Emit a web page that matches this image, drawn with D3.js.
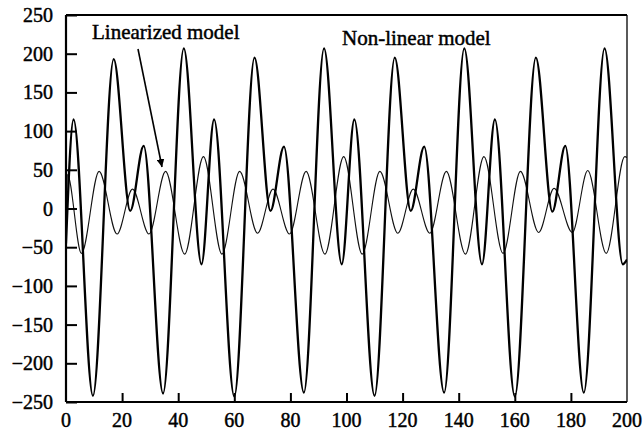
<!DOCTYPE html>
<html>
<head>
<meta charset="utf-8">
<script src="https://cdn.jsdelivr.net/npm/d3@7"></script>
<style>
  body { margin: 0; background: #fff; }
  text { font-family: "Liberation Serif", "DejaVu Serif", serif; fill: #000; stroke: #000; stroke-width: 0.45px; }
</style>
</head>
<body>
<div class="chart"></div>
<script>
// non-linear model (thick line)
const nonlinX = [0, 2.7, 9.6, 17.0, 22.9, 27.7, 34.6, 42.0, 48.3,
  52.8, 60.0, 67.2, 72.9, 77.7, 84.8, 92.0, 98.3,
  102.8, 110.0, 117.2, 122.9, 127.7, 134.8, 142.0, 148.3,
  152.9, 160.0, 167.5, 173.4, 178.0, 184.6, 192.0, 198.5, 200];
const nonlinY = [-45, 115, -242, 193, -3, 81, -239, 207, -72,
  115, -243, 195, -3, 80, -238, 207, -72,
  115, -242, 195, -3, 80, -238, 207, -72,
  115, -243, 195, -4, 81, -238, 207, -72, -66];

// linearized model (thin line)
const linX = [0, 0.5, 5.5, 11.8, 18.2, 23.7, 29.6, 35.5, 42.3, 49.0,
  55.6, 61.9, 68.3, 73.8, 79.7, 85.6, 92.3, 99.0,
  105.6, 111.9, 118.3, 123.8, 129.7, 135.6, 142.4, 149.0,
  155.8, 162.0, 168.5, 174.0, 180.5, 186.0, 192.6, 199.2, 200];
const linY = [-45, 44, -58, 48, -33, 25, -33, 48, -59, 67,
  -59, 48, -32, 25, -33, 48, -59, 67,
  -59, 48, -32, 25, -32, 48, -59, 67,
  -58, 48, -31, 26, -31, 49, -58, 67, 66];

const xTicks = [0, 20, 40, 60, 80, 100, 120, 140, 160, 180, 200];
const yTicks = [-250, -200, -150, -100, -50, 0, 50, 100, 150, 200, 250];

const width = 643;
const height = 432;
const margin = { top: 15, right: 16, bottom: 30, left: 66 };

const x = d3.scaleLinear().domain([0, 200]).range([margin.left, width - margin.right]);
const y = d3.scaleLinear().domain([-250, 250]).range([height - margin.bottom, margin.top]);

const svg = d3.select(".chart")
  .append("svg")
  .attr("width", width)
  .attr("height", height);

const line = d3.line()
  .x((d) => x(d[0]))
  .y((d) => y(d[1]))
  .curve(d3.curveMonotoneX);

// clip so the lines stay inside the frame
svg.append("clipPath").attr("id", "plot")
  .append("rect")
  .attr("x", margin.left)
  .attr("y", margin.top)
  .attr("width", width - margin.left - margin.right)
  .attr("height", height - margin.top - margin.bottom);

const lin = linX.map((v, i) => [v, linY[i]]);
const nonlin = nonlinX.map((v, i) => [v, nonlinY[i]]);

svg.append("path")
  .datum(lin)
  .attr("clip-path", "url(#plot)")
  .attr("fill", "none")
  .attr("stroke", "#111")
  .attr("stroke-width", 1.1)
  .attr("d", line);

svg.append("path")
  .datum(nonlin)
  .attr("clip-path", "url(#plot)")
  .attr("fill", "none")
  .attr("stroke", "#000")
  .attr("stroke-width", 2.3)
  .attr("stroke-linejoin", "round")
  .attr("d", line);

// axes, ticks inside the frame
const fmt = (d) => (d < 0 ? "\u2212" + Math.abs(d) : String(d));

const yAxis = svg.append("g")
  .attr("transform", `translate(${margin.left},0)`)
  .call(d3.axisRight(y).tickValues(yTicks).tickSize(11).tickFormat(""));
yAxis.select(".domain").remove();
yAxis.selectAll("line").attr("stroke-width", 2);

const xAxis = svg.append("g")
  .attr("transform", `translate(0,${height - margin.bottom})`)
  .call(d3.axisTop(x).tickValues(xTicks.slice(1, -1)).tickSize(9).tickFormat(""));
xAxis.select(".domain").remove();
xAxis.selectAll("line").attr("stroke-width", 2);

svg.append("g")
  .selectAll("text")
  .data(yTicks)
  .join("text")
  .attr("x", margin.left - 13)
  .attr("y", (d) => y(d) + 7)
  .attr("text-anchor", "end")
  .style("font-size", "20px")
  .text(fmt);

svg.append("g")
  .selectAll("text")
  .data(xTicks)
  .join("text")
  .attr("x", (d) => x(d))
  .attr("y", height - 5)
  .attr("text-anchor", "middle")
  .style("font-size", "20px")
  .text(fmt);

// frame
const x0 = x(0), x1 = x(200), y0 = y(-250), y1 = y(250);
svg.append("line").attr("x1", x0).attr("x2", x1).attr("y1", y1).attr("y2", y1)
  .attr("stroke", "#000").attr("stroke-width", 2.2);
svg.append("line").attr("x1", x0).attr("x2", x1).attr("y1", y0).attr("y2", y0)
  .attr("stroke", "#000").attr("stroke-width", 2.2);
svg.append("line").attr("x1", x0).attr("x2", x0).attr("y1", y1).attr("y2", y0)
  .attr("stroke", "#000").attr("stroke-width", 2.2);
svg.append("line").attr("x1", x1).attr("x2", x1).attr("y1", y1).attr("y2", y0)
  .attr("stroke", "#000").attr("stroke-width", 1.3);

// annotations
svg.append("text")
  .attr("x", 92)
  .attr("y", 39)
  .style("font-size", "21px")
  .text("Linearized model");

svg.append("text")
  .attr("x", 342)
  .attr("y", 45)
  .style("font-size", "21px")
  .text("Non-linear model");

svg.append("defs").append("marker")
  .attr("id", "head")
  .attr("viewBox", "0 0 10 10")
  .attr("refX", 10)
  .attr("refY", 5)
  .attr("markerWidth", 5)
  .attr("markerHeight", 5)
  .attr("orient", "auto")
  .append("path")
  .attr("d", "M0,0L10,5L0,10Z")
  .attr("fill", "#000");

svg.append("line")
  .attr("x1", 138)
  .attr("y1", 49)
  .attr("x2", 162)
  .attr("y2", 167)
  .attr("stroke", "#000")
  .attr("stroke-width", 1.6)
  .attr("marker-end", "url(#head)");
</script>
</body>
</html>
